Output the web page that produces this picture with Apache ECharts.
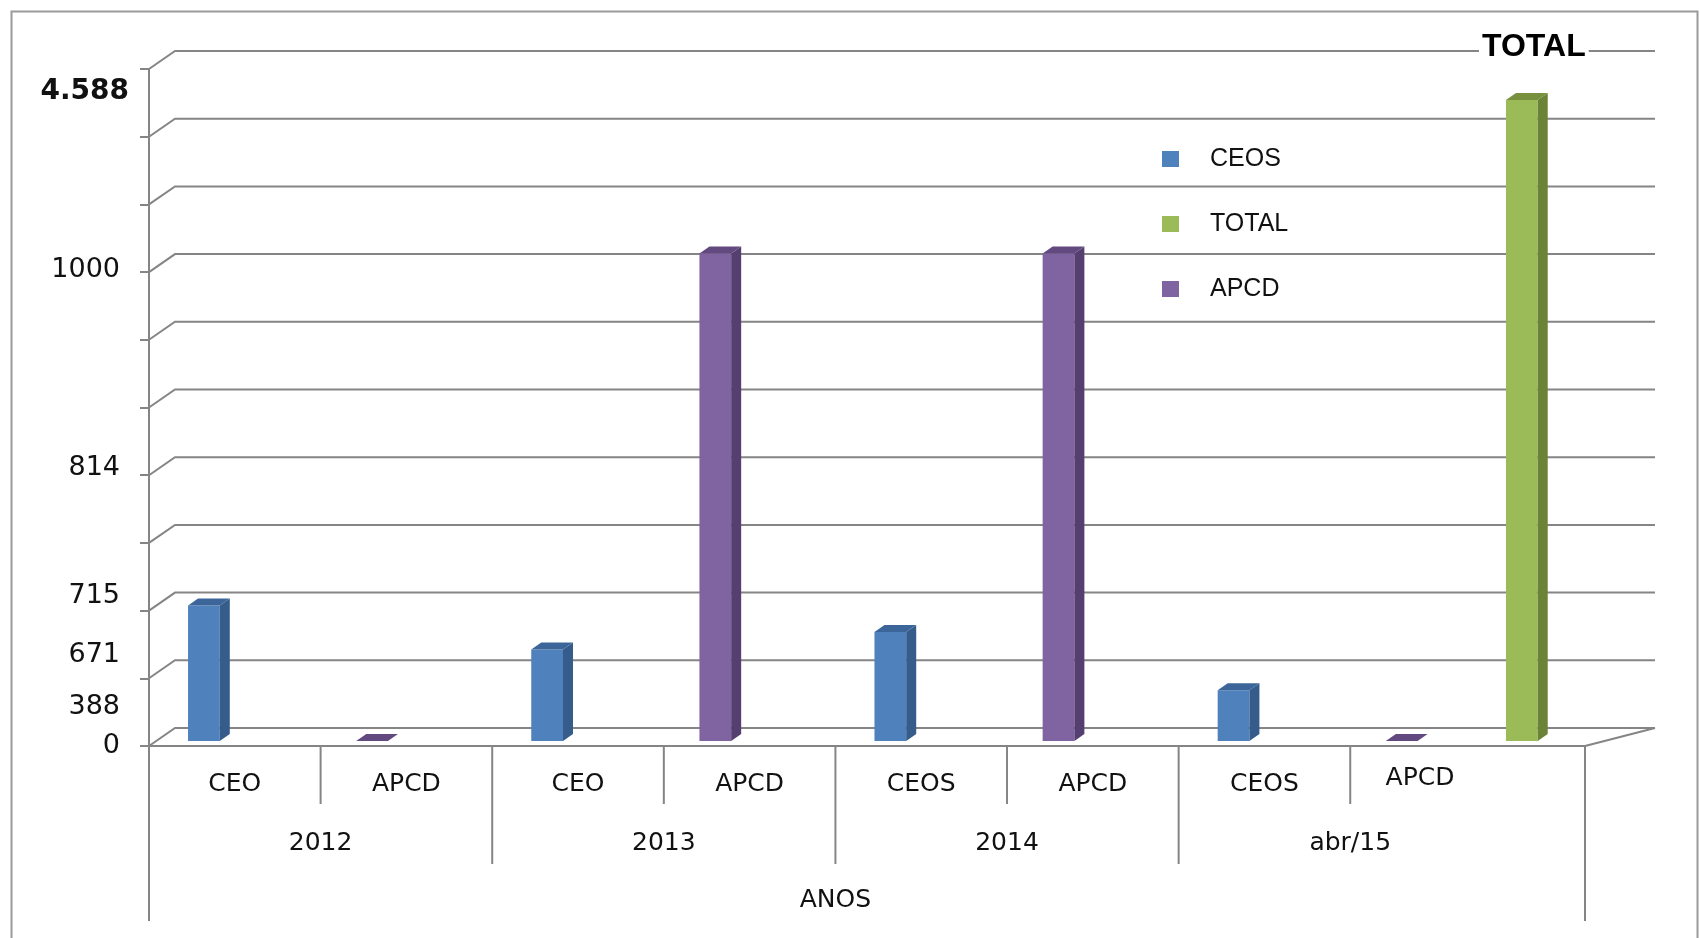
<!DOCTYPE html>
<html><head><meta charset="utf-8">
<script src="https://cdn.jsdelivr.net/npm/echarts@6/dist/echarts.min.js"></script>
<style>html,body{margin:0;padding:0;background:#fff}#c{width:1700px;height:938px}</style>
</head><body><div id="c"></div>
<script>
// ---------- data ----------
const typeLabels = ['CEO', 'APCD', 'CEO', 'APCD', 'CEOS', 'APCD', 'CEOS', 'APCD'];
const yearLabels = ['2012', '2013', '2014', 'abr/15'];
const axisTitle = 'ANOS';
const seriesNames = ['CEOS', 'TOTAL', 'APCD'];
// bar heights read against the gridlines (axis 0..1000, one gridline per 100); index 8 = TOTAL column
const ceosHeights  = [200, null, 135, null, 161, null, 75, null, null];
const apcdHeights  = [null, 0, null, 720, null, 720, null, 0, null];
const totalHeights = [null, null, null, null, null, null, null, null, 947];
const gridTicks = [0, 100, 200, 300, 400, 500, 600, 700, 800, 900, 1000];
// hand-placed value labels on the vertical axis
const yLabelTexts = ['4.588', '1000', '814', '715', '671', '388', '0'];
const yLabelPositions = [966, 703, 411, 222, 134, 57, 0];
const totalTag = 'TOTAL';

// ---------- style ----------
const GRAY = '#858585';
const LBL_FONT = 'DejaVu Sans';
const DX_L = 26, DY = 18, DX_R = 70;

const chart = echarts.init(document.getElementById('c'), null, {renderer: 'canvas'});

function toData(arr) {
  const out = [];
  arr.forEach((v, i) => { if (v != null) out.push([i, v]); });
  return out;
}

function barSeries(name, arr, slot, front, side, top, tag) {
  return {
    name: name, type: 'custom', z: 3,
    color: front, itemStyle: {color: front},
    data: toData(arr),
    renderItem: function (params, api) {
      const i = api.value(0), v = api.value(1);
      const base = api.coord([i + slot, 0]);
      const tp = api.coord([i + slot, v]);
      const w = api.size([1, 0])[0] * 0.185;
      const lift = 5, dx = 10, dy = 7;
      const x0 = base[0] - w / 2, x1 = base[0] + w / 2;
      const yb = base[1] - lift, yt = tp[1] - lift;
      const ch = [];
      if (yb - yt > 0.5) {
        ch.push({type: 'rect', shape: {x: x0, y: yt, width: w, height: yb - yt}, style: {fill: front}});
        ch.push({type: 'polygon', shape: {points: [[x1, yt], [x1 + dx, yt - dy], [x1 + dx, yb - dy], [x1, yb]]}, style: {fill: side}});
      }
      ch.push({type: 'polygon', shape: {points: [[x0, yt], [x0 + dx, yt - dy], [x1 + dx, yt - dy], [x1, yt]]}, style: {fill: top}});
      if (tag) {
        ch.push({type: 'text', z2: 10, style: {
          text: tag, x: base[0] + 12, y: yt - 53,
          align: 'center', verticalAlign: 'middle', textAlign: 'center', textVerticalAlign: 'middle',
          fontFamily: 'Liberation Sans', fontSize: 32, fontWeight: 'bold', fill: '#000',
          backgroundColor: '#fff', padding: [2, 3]
        }});
      }
      return {type: 'group', children: ch};
    }
  };
}

const option = {
  animation: false,
  backgroundColor: '#fff',
  graphic: [{
    type: 'rect', left: 9, top: 9, z: 0,
    shape: {width: 1686, height: 960},
    style: {fill: 'none', stroke: '#9a9a9a', lineWidth: 2}
  }],
  grid: {left: 149, right: 115, top: 69, bottom: 192, outerBoundsMode: 'none', containLabel: false},
  legend: {
    data: seriesNames,
    orient: 'vertical', left: 1157, top: 141,
    icon: 'rect', itemWidth: 17, itemHeight: 16, itemGap: 39,
    selectedMode: false,
    textStyle: {fontFamily: 'Liberation Sans', fontSize: 25, color: '#111', lineHeight: 26, padding: [0, 0, 0, 26]}
  },
  xAxis: {
    type: 'value', min: 0, max: 8.368,
    axisLine: {show: true, onZero: false, lineStyle: {color: GRAY, width: 2}},
    axisTick: {show: false}, axisLabel: {show: false}, splitLine: {show: false}
  },
  yAxis: {
    type: 'value', min: 0, max: 1000, interval: 100,
    axisLine: {show: true, lineStyle: {color: GRAY, width: 2}},
    axisTick: {show: true, length: 9, lineStyle: {color: GRAY, width: 2}},
    axisLabel: {show: false}, splitLine: {show: false}
  },
  series: [
    // back wall / floor gridlines
    {
      type: 'custom', z: 1, silent: true,
      data: gridTicks.map(t => [0, t]),
      renderItem: function (params, api) {
        const cs = params.coordSys;
        const y = api.coord([0, api.value(1)])[1];
        const xr = cs.x + cs.width + DX_R;
        const ch = [{type: 'polyline', shape: {points: [[cs.x, y], [cs.x + DX_L, y - DY], [xr, y - DY]]},
                     style: {stroke: GRAY, lineWidth: 2, fill: null}}];
        if (api.value(1) === 0) {
          ch.push({type: 'line', shape: {x1: cs.x + cs.width, y1: y, x2: xr, y2: y - DY},
                   style: {stroke: GRAY, lineWidth: 2}});
        }
        return {type: 'group', children: ch};
      }
    },
    barSeries('CEOS', ceosHeights, 0.32, '#4F81BD', '#355C8B', '#3C6699', null),
    barSeries('APCD', apcdHeights, 0.3, '#8064A2', '#553F70', '#62497F', null),
    barSeries('TOTAL', totalHeights, 0.0, '#9BBB59', '#6A8337', '#77913F', totalTag),
    // level 1 category labels
    {
      type: 'custom', z: 2, silent: true,
      data: typeLabels.map((t, i) => [i, 0]),
      renderItem: function (params, api) {
        const i = api.value(0);
        const c = api.coord([i + 0.5, 0]);
        const y0 = api.coord([0, 0])[1];
        const last = i === typeLabels.length - 1;
        const ch = [{type: 'text', style: {
          text: typeLabels[params.dataIndex], x: c[0] - (last ? 16 : 0), y: y0 + (last ? 32 : 38),
          align: 'center', verticalAlign: 'middle', textAlign: 'center', textVerticalAlign: 'middle',
          fontFamily: LBL_FONT, fontSize: 25, fill: '#111'}}];
        if (!last) {
          const xb = api.coord([i + 1, 0])[0];
          const len = ((i + 1) % 2 === 0) ? 118 : 58;
          ch.push({type: 'line', shape: {x1: xb, y1: y0, x2: xb, y2: y0 + len}, style: {stroke: GRAY, lineWidth: 2}});
        }
        return {type: 'group', children: ch};
      }
    },
    // level 2 year labels
    {
      type: 'custom', z: 2, silent: true,
      data: yearLabels.map((t, i) => [i, 0]),
      renderItem: function (params, api) {
        const i = api.value(0);
        const c = api.coord([2 * i + 1, 0]);
        return {type: 'text', style: {
          text: yearLabels[params.dataIndex], x: c[0], y: c[1] + 97,
          align: 'center', verticalAlign: 'middle', textAlign: 'center', textVerticalAlign: 'middle',
          fontFamily: LBL_FONT, fontSize: 25, fill: '#111'}};
      }
    },
    // level 3 title + outer frame lines
    {
      type: 'custom', z: 2, silent: true,
      data: [[0, 0]],
      renderItem: function (params, api) {
        const cs = params.coordSys;
        const c = api.coord([typeLabels.length / 2, 0]);
        const y0 = c[1];
        return {type: 'group', children: [
          {type: 'text', style: {
            text: axisTitle, x: c[0], y: y0 + 154,
            align: 'center', verticalAlign: 'middle', textAlign: 'center', textVerticalAlign: 'middle',
            fontFamily: LBL_FONT, fontSize: 25, fill: '#111'}},
          {type: 'line', shape: {x1: cs.x, y1: y0, x2: cs.x, y2: y0 + 175}, style: {stroke: GRAY, lineWidth: 2}},
          {type: 'line', shape: {x1: cs.x + cs.width, y1: y0, x2: cs.x + cs.width, y2: y0 + 175}, style: {stroke: GRAY, lineWidth: 2}}
        ]};
      }
    },
    // hand-placed vertical-axis labels
    {
      type: 'custom', z: 4, silent: true,
      data: yLabelPositions.map(p => [0, p]),
      renderItem: function (params, api) {
        const idx = params.dataIndex;
        const c = api.coord([0, api.value(1)]);
        const bold = idx === 0;
        return {type: 'text', style: {
          text: yLabelTexts[idx], x: c[0] - (bold ? 20 : 29), y: c[1],
          align: 'right', verticalAlign: 'middle', textAlign: 'right', textVerticalAlign: 'middle',
          fontFamily: LBL_FONT, fontSize: bold ? 28 : 27, fontWeight: bold ? 'bold' : 'normal', fill: '#111'}};
      }
    }
  ]
};
chart.setOption(option);
</script>
</body></html>
